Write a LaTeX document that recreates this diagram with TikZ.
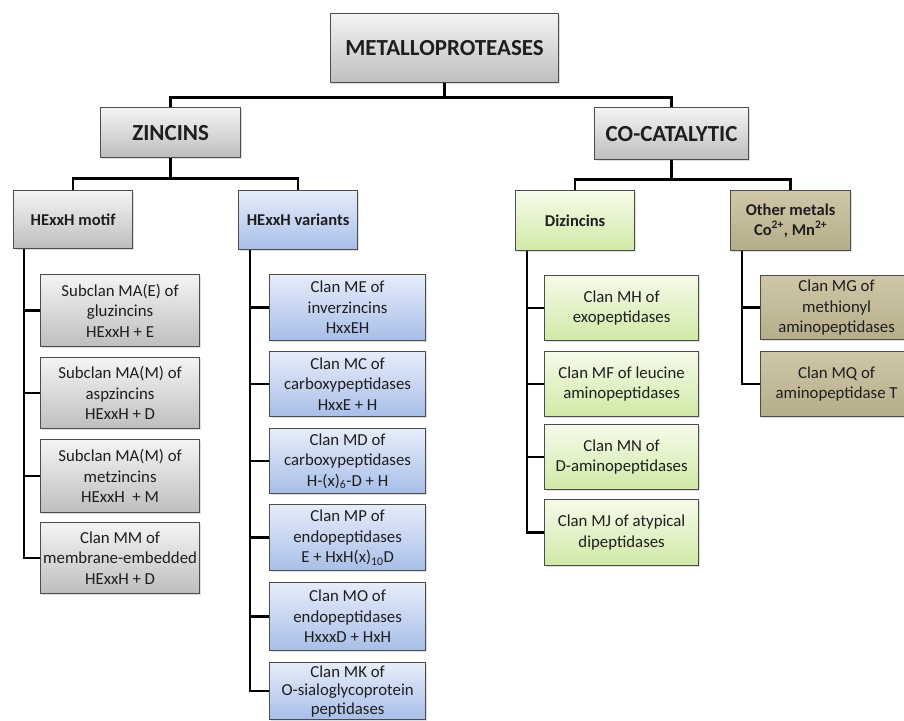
\documentclass[tikz,border=0pt]{standalone}
\usepackage{fontspec}
\setmainfont{Carlito}
\usepackage{xcolor}
\definecolor{boxgraytop}{RGB}{244,244,244}
\definecolor{boxgraybot}{RGB}{190,190,190}
\definecolor{boxbluetop}{RGB}{230,237,250}
\definecolor{boxbluebot}{RGB}{168,190,232}
\definecolor{boxgreentop}{RGB}{246,251,234}
\definecolor{boxgreenbot}{RGB}{208,233,166}
\definecolor{boxtantop}{RGB}{206,198,166}
\definecolor{boxtanbot}{RGB}{182,174,138}
\definecolor{txtdark}{RGB}{30,30,30}
\usepackage{tikz}
\usetikzlibrary{calc, shadows}

\begin{document}
\begin{tikzpicture}[
    x=1pt, y=-1pt,
    box/.style={draw=black!70, line width=1.2pt, anchor=north west,
                align=center, inner sep=0pt, text=txtdark,
                drop shadow={opacity=0.25, shadow xshift=1.5pt, shadow yshift=-1.5pt}},
    graybox/.style={box, top color=boxgraytop, bottom color=boxgraybot},
    bluebox/.style={box, top color=boxbluetop, bottom color=boxbluebot},
    greenbox/.style={box, top color=boxgreentop, bottom color=boxgreenbot},
    tanbox/.style={box, top color=boxtantop, bottom color=boxtanbot},
    bighead/.style={font=\fontsize{23}{27}\selectfont\bfseries},
    subhead/.style={font=\fontsize{16.5}{19.5}\selectfont\bfseries},
    clan/.style={font=\fontsize{16.8}{20.5}\selectfont},
    link/.style={draw=black, line width=2.6pt}
]
\useasboundingbox (0,0) rectangle (904,720);

\node[graybox, bighead, minimum width=228, minimum height=69] (root) at (330,13) {METALLOPROTEASES};
\node[graybox, bighead, minimum width=140, minimum height=50] (zinc) at (100,107) {ZINCINS};
\node[graybox, bighead, minimum width=154, minimum height=52] (cocat) at (594,107) {CO-CATALYTIC};

\node[graybox, subhead, minimum width=119, minimum height=58] (motif) at (13,190) {HExxH motif};
\node[bluebox, subhead, minimum width=119, minimum height=59] (variants) at (238,190) {HExxH variants};
\node[greenbox, subhead, minimum width=119, minimum height=60] (dizinc) at (515,190) {Dizincins};
\node[tanbox, subhead, minimum width=120, minimum height=60] (other) at (730,190) {Other metals\\Co\textsuperscript{2+}, Mn\textsuperscript{2+}};

\node[graybox, clan, minimum width=159, minimum height=72] (maE) at (40,274) {Subclan MA(E) of\\gluzincins\\HExxH + E};
\node[graybox, clan, minimum width=159, minimum height=71] (maMasp) at (40,357) {Subclan MA(M) of\\aspzincins\\HExxH + D};
\node[graybox, clan, minimum width=159, minimum height=73] (maMmet) at (40,439) {Subclan MA(M) of\\metzincins\\HExxH~ + M};
\node[graybox, clan, minimum width=159, minimum height=71] (mm) at (40,522) {Clan MM of\\membrane-embedded\\HExxH + D};

\node[bluebox, clan, minimum width=156, minimum height=66] (me) at (269,274) {Clan ME of\\inverzincins\\HxxEH};
\node[bluebox, clan, minimum width=156, minimum height=65] (mc) at (269,351) {Clan MC of\\carboxypeptidases\\HxxE + H};
\node[bluebox, clan, minimum width=156, minimum height=65] (md) at (269,428) {Clan MD of\\carboxypeptidases\\H-(x)\textsubscript{6}-D + H};
\node[bluebox, clan, minimum width=156, minimum height=66] (mp) at (269,504) {Clan MP of\\endopeptidases\\E + HxH(x)\textsubscript{10}D};
\node[bluebox, clan, minimum width=156, minimum height=68] (mo) at (269,582) {Clan MO of\\endopeptidases\\HxxxD + HxH};
\node[bluebox, clan, font=\fontsize{16.8}{18.5}\selectfont, minimum width=156, minimum height=57] (mk) at (269,662) {Clan MK of\\O-sialoglycoprotein\\peptidases};

\node[greenbox, clan, minimum width=154, minimum height=65] (mh) at (544,275) {Clan MH of\\exopeptidases};
\node[greenbox, clan, minimum width=154, minimum height=65] (mf) at (544,351) {Clan MF of leucine\\aminopeptidases};
\node[greenbox, clan, minimum width=154, minimum height=65] (mn) at (544,424) {Clan MN of\\D-aminopeptidases};
\node[greenbox, clan, minimum width=154, minimum height=66] (mj) at (544,499) {Clan MJ of atypical\\dipeptidases};

\node[tanbox, clan, minimum width=152, minimum height=64] (mg) at (760,275) {Clan MG of\\methionyl\\aminopeptidases};
\node[tanbox, clan, minimum width=152, minimum height=65] (mq) at (760,351) {Clan MQ of\\aminopeptidase T};

\draw[link] (root.south) -- ++(0,14) -| (zinc.north);
\draw[link] (root.south) -- ++(0,14) -| (cocat.north);
\draw[link] (zinc.south) -- ++(0,20) -| ($(motif.north west)!0.5!(motif.north east)$);
\draw[link] (zinc.south) -- ++(0,20) -| (variants.north);
\draw[link] (cocat.south) -- ++(0,19) -| (dizinc.north);
\draw[link] (cocat.south) -- ++(0,19) -| (other.north);

\foreach \kid in {maE, maMasp, maMmet, mm}
    \draw[link] ($(motif.south west)+(11,0)$) |- (\kid.west);
\foreach \kid in {me, mc, md, mp, mo, mk}
    \draw[link] ($(variants.south west)+(12,0)$) |- (\kid.west);
\foreach \kid in {mh, mf, mn, mj}
    \draw[link] ($(dizinc.south west)+(12,0)$) |- (\kid.west);
\foreach \kid in {mg, mq}
    \draw[link] ($(other.south west)+(12,0)$) |- (\kid.west);
\end{tikzpicture}
\end{document}
